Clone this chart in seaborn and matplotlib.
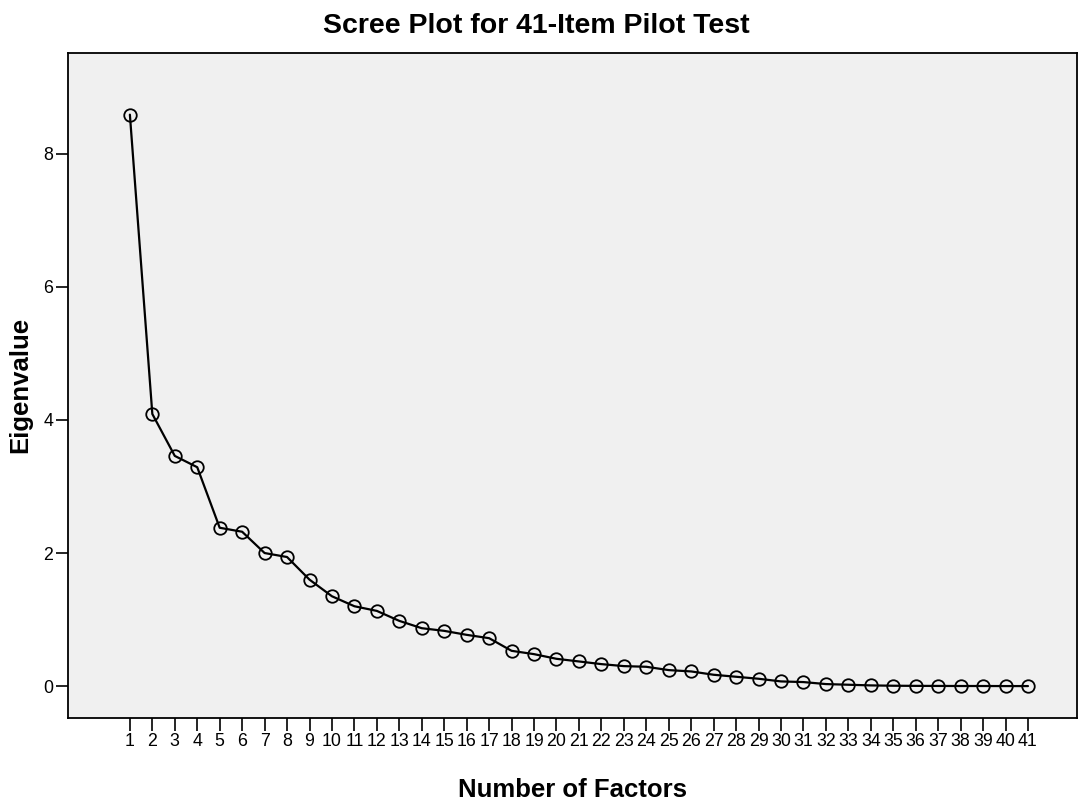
import matplotlib
matplotlib.use("Agg")
import matplotlib.pyplot as plt
import seaborn as sns
import pandas as pd

factors = list(range(1, 42))
eigenvalues = [8.59, 4.09, 3.46, 3.29, 2.38, 2.32, 2.00, 1.94, 1.60, 1.35,
               1.20, 1.13, 0.98, 0.87, 0.83, 0.77, 0.72, 0.53, 0.48, 0.41,
               0.37, 0.33, 0.30, 0.29, 0.24, 0.22, 0.17, 0.14, 0.11, 0.07,
               0.06, 0.03, 0.02, 0.01, 0.005, 0.003, 0.002, 0.001, 0.001, 0.0, 0.0]
yticks = [0, 2, 4, 6, 8]

sns.set_style("white")
plt.rcParams['font.family'] = ['Liberation Sans', 'DejaVu Sans']
plt.rcParams['text.color'] = 'black'
plt.rcParams['axes.labelcolor'] = 'black'
plt.rcParams['xtick.color'] = 'black'
plt.rcParams['ytick.color'] = 'black'

df = pd.DataFrame({"Factor": factors, "Eigenvalue": eigenvalues})

fig = plt.figure(figsize=(10.78, 8), dpi=100)
ax = fig.add_axes([0.063, 0.1025, 0.936, 0.8315])
ax.set_facecolor("#f0f0f0")

sns.lineplot(data=df, x="Factor", y="Eigenvalue", ax=ax, color="black",
             linewidth=1.6, marker="o", markersize=9, markerfacecolor="none",
             markeredgecolor="black", markeredgewidth=1.3)

ax.set_xlim(-1.76, 43.18)
ax.set_ylim(-0.48, 9.52)
ax.set_xticks(factors)
ax.set_xticklabels([str(f) for f in factors], fontsize=12.8)
ax.set_yticks(yticks)
ax.set_yticklabels([str(t) for t in yticks], fontsize=12.8)
ax.tick_params(axis="x", direction="out", length=9.5, width=1.2, pad=1, bottom=True)
ax.tick_params(axis="y", direction="out", length=9, width=1.2, pad=1.5, left=True)

for s in ["left", "top", "bottom", "right"]:
    ax.spines[s].set_visible(True)
    ax.spines[s].set_color("black")
    ax.spines[s].set_linewidth(1.3)

ax.set_xlabel("Number of Factors", fontsize=18.5, fontweight="bold", labelpad=20)
ax.xaxis.set_label_coords(0.5, -0.09)
ax.set_ylabel("Eigenvalue", fontsize=18.5, fontweight="bold", labelpad=8)
ax.set_title("Scree Plot for 41-Item Pilot Test", fontsize=20.5, fontweight="bold",
             pad=14, x=0.464)

fig.savefig("out.png", dpi=100)
